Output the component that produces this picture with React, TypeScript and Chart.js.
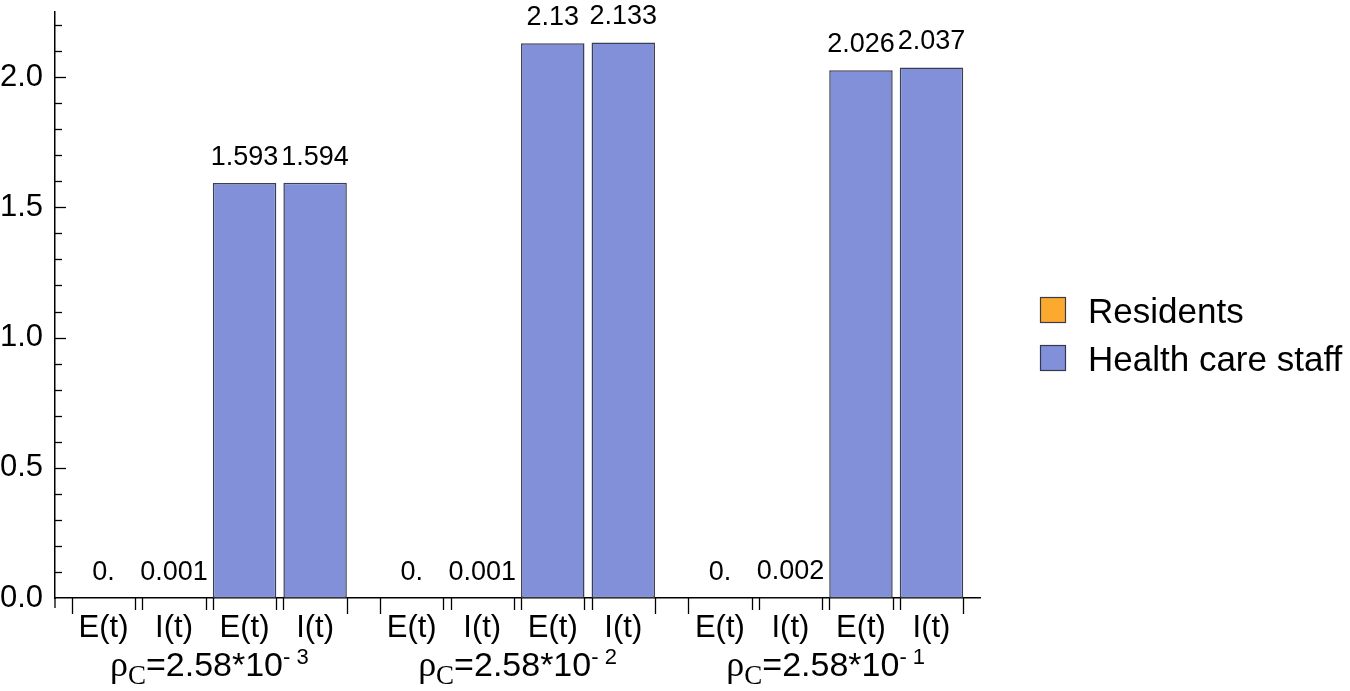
import React, { useEffect, useRef } from 'react';
import { Chart, registerables } from 'chart.js';

Chart.register(...registerables);

// ---- data ----
const rhoMantissa = '2.58';
const rhoExponents = ['-3', '-2', '-1'];
const variables = ['E(t)', 'I(t)'];
const seriesNames = ['Residents', 'Health care staff'];
const residentsE = [0, 0, 0];
const residentsI = [0.001, 0.001, 0.002];
const staffE = [1.593, 2.13, 2.026];
const staffI = [1.594, 2.133, 2.037];
const yMax = 2.25;
const yMajorStep = 0.5;
const yMinorStep = 0.1;

// ---- style ----
const seriesColors = ['#FBA92F', '#8190D9'];
const edgeColor = 'rgba(50,52,72,0.95)';
const SANS = '"Liberation Sans", Arial, Helvetica, sans-serif';
const SERIF = '"Liberation Serif", "Times New Roman", serif';
const GROUP_PITCH = 4.37; // in bar slots
const X_PAD = 0.688;

const seriesValues = [
  [residentsE, residentsI],
  [staffE, staffI],
];

function fmt(v: number): string {
  return v === 0 ? '0.' : String(v);
}

const annotatePlugin = {
  id: 'annotate',
  afterDraw(chart: any) {
    const ctx = chart.ctx as CanvasRenderingContext2D;
    const { left, bottom } = chart.chartArea;
    const ys = chart.scales.y;
    ctx.save();
    ctx.strokeStyle = '#000';
    ctx.lineWidth = 1.3;

    // y ticks (inward)
    const n = Math.floor(yMax / yMinorStep + 1e-9);
    for (let k = 1; k <= n; k++) {
      const v = k * yMinorStep;
      const py = Math.round(ys.getPixelForValue(v)) + 0.5;
      const r = v / yMajorStep;
      const major = Math.abs(r - Math.round(r)) < 1e-6;
      const len = major ? 11 : 7;
      ctx.beginPath();
      ctx.moveTo(left, py);
      ctx.lineTo(left + len, py);
      ctx.stroke();
    }
    // y axis small extension below x axis
    ctx.beginPath();
    ctx.moveTo(left, bottom);
    ctx.lineTo(left, bottom + 10);
    ctx.stroke();

    // collect bars per group
    const groups: any[][] = rhoExponents.map(() => []);
    chart.data.datasets.forEach((ds: any, di: number) => {
      const meta = chart.getDatasetMeta(di);
      meta.data.forEach((el: any, i: number) => {
        const raw = ds.data[i];
        groups[raw.g].push({ el, raw });
      });
    });

    groups.forEach((bars, g) => {
      bars.sort((a, b) => a.el.x - b.el.x);
      // x ticks at bar edges
      bars.forEach((b, i) => {
        const half = b.el.width / 2;
        const edges = [
          { x: b.el.x - half, len: i === 0 ? 16 : 12 },
          { x: b.el.x + half, len: i === bars.length - 1 ? 16 : 12 },
        ];
        edges.forEach((e) => {
          const px = Math.round(e.x) + 0.5;
          ctx.beginPath();
          ctx.moveTo(px, bottom);
          ctx.lineTo(px, bottom + e.len);
          ctx.stroke();
        });
      });

      ctx.fillStyle = '#000';
      // value labels
      ctx.font = `27px ${SANS}`;
      ctx.textAlign = 'center';
      ctx.textBaseline = 'alphabetic';
      bars.forEach((b) => {
        ctx.fillText(fmt(b.raw.y), b.el.x, b.el.y - 18);
      });
      // variable labels
      ctx.font = `31px ${SANS}`;
      bars.forEach((b) => {
        ctx.fillText(variables[b.raw.v], b.el.x, bottom + 39);
      });

      // group label: rho_C = 2.58*10^-k
      const cx = (bars[0].el.x + bars[bars.length - 1].el.x) / 2;
      const parts = [
        { t: 'ρ', font: `36px ${SERIF}`, dy: 78 },
        { t: 'C', font: `27px ${SERIF}`, dy: 86 },
        { t: `=${rhoMantissa}*10`, font: `34px ${SANS}`, dy: 78 },
        { t: rhoExponents[g].replace('-', '- '), font: `22px ${SANS}`, dy: 66 },
      ];
      let total = 0;
      const widths = parts.map((p) => {
        ctx.font = p.font;
        const w = ctx.measureText(p.t).width;
        total += w;
        return w;
      });
      let x = cx - total / 2;
      ctx.textAlign = 'left';
      parts.forEach((p, i) => {
        ctx.font = p.font;
        ctx.fillText(p.t, x, bottom + p.dy);
        x += widths[i];
      });
    });

    // legend
    const lx = 1040;
    const tops = [297, 345];
    seriesNames.forEach((name, i) => {
      ctx.fillStyle = seriesColors[i];
      ctx.fillRect(lx, tops[i], 26, 26);
      ctx.strokeStyle = edgeColor;
      ctx.lineWidth = 1.2;
      ctx.strokeRect(lx + 0.5, tops[i] + 0.5, 25, 25);
      ctx.fillStyle = '#000';
      ctx.font = `35px ${SANS}`;
      ctx.textAlign = 'left';
      ctx.textBaseline = 'alphabetic';
      ctx.fillText(name, 1088, tops[i] + 26);
    });
    ctx.restore();
  },
};

export default function App() {
  const canvasRef = useRef<HTMLCanvasElement | null>(null);

  useEffect(() => {
    const canvas = canvasRef.current;
    if (!canvas) return;

    const datasets = seriesNames.map((name, s) => {
      const data: any[] = [];
      rhoExponents.forEach((_, g) => {
        variables.forEach((__, v) => {
          data.push({
            x: g * GROUP_PITCH + s * variables.length + v,
            y: seriesValues[s][v][g],
            g,
            v,
          });
        });
      });
      return {
        label: name,
        data,
        backgroundColor: seriesColors[s],
        borderColor: edgeColor,
        borderWidth: 1.5,
        borderSkipped: false,
        barPercentage: 0.9,
        categoryPercentage: 1,
      };
    });

    const lastX = (rhoExponents.length - 1) * GROUP_PITCH + seriesNames.length * variables.length - 1;

    const chart = new Chart(canvas, {
      type: 'bar',
      data: { datasets },
      options: {
        animation: false,
        responsive: false,
        events: [],
        layout: { padding: { left: 0, top: 12, right: 370, bottom: 0 } },
        plugins: {
          legend: { display: false },
          tooltip: { enabled: false },
        },
        scales: {
          x: {
            type: 'linear',
            min: -X_PAD,
            max: lastX + X_PAD,
            stacked: true,
            offset: false,
            grid: { display: false, drawTicks: false },
            border: { display: true, color: '#000', width: 1.5 },
            ticks: { display: false, stepSize: 1 },
            afterFit: (scale: any) => {
              scale.height = 93;
              scale.paddingLeft = 0;
              scale.paddingRight = 0;
            },
          },
          y: {
            type: 'linear',
            min: 0,
            max: yMax,
            stacked: true,
            grid: { display: false, drawTicks: false },
            border: { display: true, color: '#000', width: 1.5 },
            ticks: {
              stepSize: yMajorStep,
              includeBounds: false,
              padding: 12,
              color: '#000',
              font: { family: SANS, size: 31 },
              callback: (v: any) => Number(v).toFixed(1),
            },
            afterFit: (scale: any) => {
              scale.width = 55;
              scale.paddingTop = 0;
              scale.paddingBottom = 0;
            },
          },
        },
      } as any,
      plugins: [annotatePlugin],
    });

    return () => chart.destroy();
  }, []);

  return (
    <canvas
      ref={canvasRef}
      width={1350}
      height={691}
      style={{ position: 'absolute', left: 0, top: 0, background: '#fff' }}
    />
  );
}
